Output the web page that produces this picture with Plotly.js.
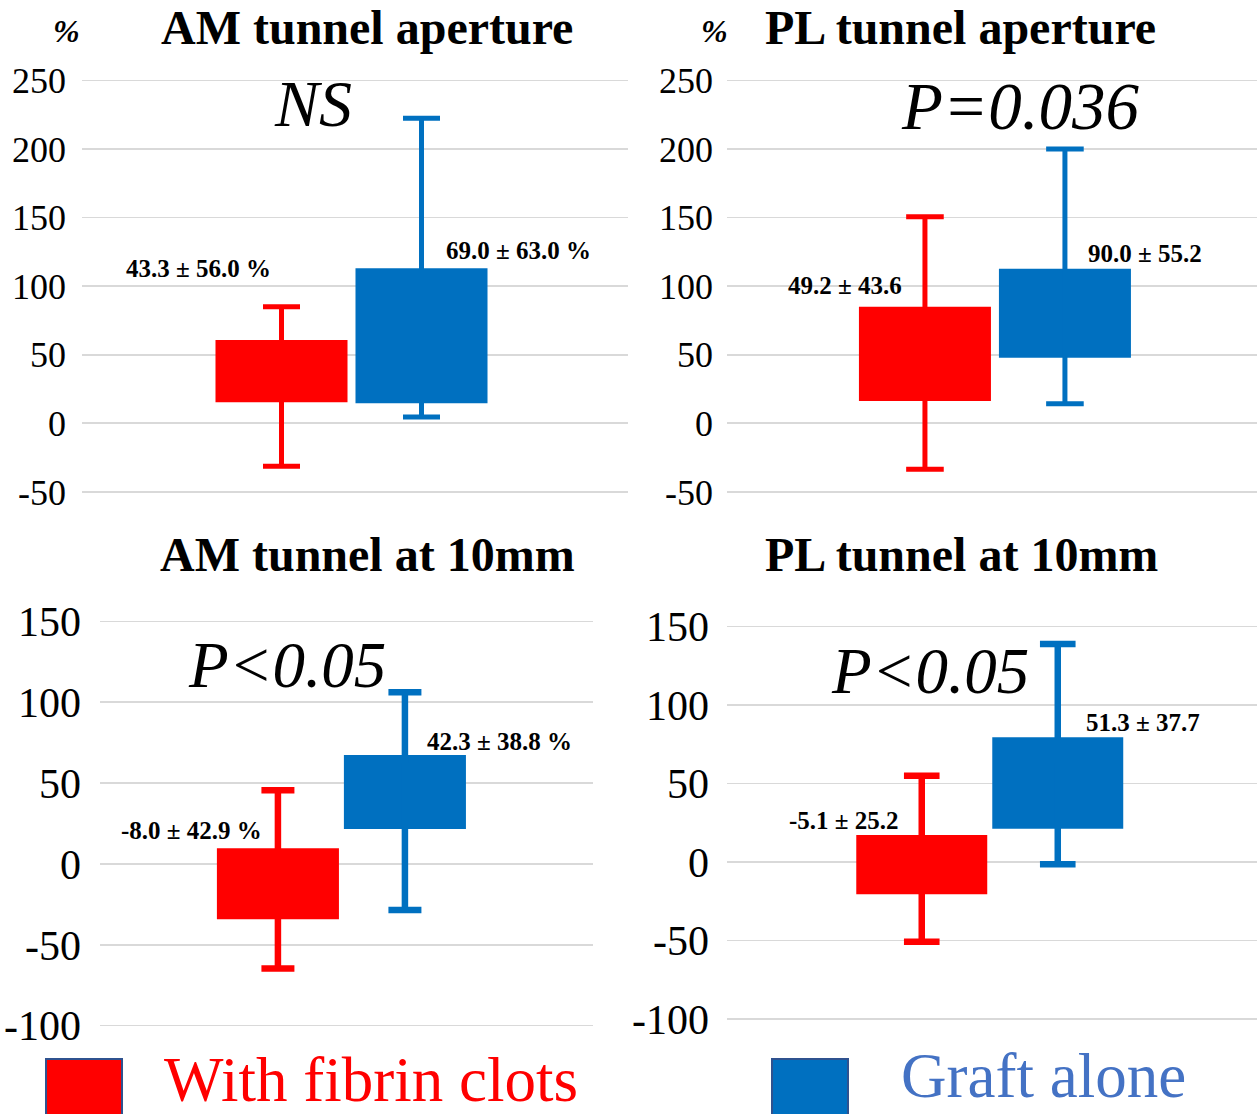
<!DOCTYPE html>
<html><head><meta charset="utf-8">
<script src="https://cdn.plot.ly/plotly-3.0.1.min.js"></script>
<style>html,body{margin:0;padding:0;background:#fff;}#chart{width:1257px;height:1114px;}</style>
</head><body><div id="chart"></div>
<script>
// ---------- DATA ----------
const groups = ['With fibrin clots', 'Graft alone'];
const panelTitles = ['AM tunnel aperture', 'PL tunnel aperture', 'AM tunnel at 10mm', 'PL tunnel at 10mm'];
const pValueLabels = ['NS', 'P=0.036', 'P<0.05', 'P<0.05'];
const unitLabel = '%';

const topTickVals = [-50, 0, 50, 100, 150, 200, 250];
const topTickText = ['-50', '0', '50', '100', '150', '200', '250'];
const bottomTickVals = [-100, -50, 0, 50, 100, 150];
const bottomTickText = ['-100', '-50', '0', '50', '100', '150'];

// AM tunnel aperture
const amApMean = [43.3, 69.0];
const amApSD   = [56.0, 63.0];
const amApQ1   = [15.3, 14.6];
const amApQ3   = [60.7, 113.0];
const amApMin  = [-31.3, 4.6];
const amApMax  = [85.0, 222.3];
// PL tunnel aperture
const plApMean = [49.2, 90.0];
const plApSD   = [43.6, 55.2];
const plApQ1   = [16.3, 47.8];
const plApQ3   = [85.0, 112.7];
const plApMin  = [-33.5, 14.3];
const plApMax  = [150.6, 200.0];
// AM tunnel at 10mm
const am10Mean = [-8.0, 42.3];
const am10SD   = [42.9, 38.8];
const am10Q1   = [-34.2, 21.6];
const am10Q3   = [9.7, 67.4];
const am10Min  = [-64.7, -28.4];
const am10Max  = [45.6, 106.2];
// PL tunnel at 10mm
const pl10Mean = [-5.1, 51.3];
const pl10SD   = [25.2, 37.7];
const pl10Q1   = [-20.6, 21.2];
const pl10Q3   = [17.2, 79.5];
const pl10Min  = [-50.8, -1.5];
const pl10Max  = [55.0, 138.9];
const labelSuffix = [' %', '', ' %', ''];

// ---------- STYLE / LAYOUT ----------
const colors = ['#FF0000', '#0070C0'];
const FONT = 'Liberation Serif, Times New Roman, serif';
const W = 1257, H = 1114;
const px = x => x / W;
const py = y => 1 - y / H;

const data4 = [
  {mean: amApMean, sd: amApSD, q1: amApQ1, q3: amApQ3, lo: amApMin, hi: amApMax, tv: topTickVals, tt: topTickText},
  {mean: plApMean, sd: plApSD, q1: plApQ1, q3: plApQ3, lo: plApMin, hi: plApMax, tv: topTickVals, tt: topTickText},
  {mean: am10Mean, sd: am10SD, q1: am10Q1, q3: am10Q3, lo: am10Min, hi: am10Max, tv: bottomTickVals, tt: bottomTickText},
  {mean: pl10Mean, sd: pl10SD, q1: pl10Q1, q3: pl10Q3, lo: pl10Min, hi: pl10Max, tv: bottomTickVals, tt: bottomTickText}
];

const geom = [
  {x0: 82, x1: 628, zero: 423.3, k: 1.372, xr: [-1.425, 2.475], yr: [-60, 260], barW: 0.943, cap: 18.5, thick: 5,
   title: [367, 27.5], p: [313, 104, 66], pct: [66, 31], lab: [[198, 268.5], [518, 251]], tick: 36, standoff: 15},
  {x0: 727, x1: 1257, zero: 423.3, k: 1.372, xr: [-1.414, 2.372], yr: [-60, 260], barW: 0.943, cap: 18.8, thick: 5,
   title: [960, 27.5], p: [1020, 106, 67], pct: [714, 31], lab: [[844.5, 285], [1144.5, 253]], tick: 36, standoff: 13},
  {x0: 100, x1: 593, zero: 864, k: 1.617, xr: [-1.401, 2.481], yr: [-110, 160], barW: 0.961, cap: 16.5, thick: 6.5,
   title: [367, 554.5], p: [287, 665, 65], pct: null, lab: [[191.5, 830], [499, 741]], tick: 42, standoff: 18},
  {x0: 727, x1: 1257, zero: 862, k: 1.569, xr: [-1.432, 2.465], yr: [-110, 160], barW: 0.963, cap: 17.8, thick: 6.5,
   title: [961, 554.5], p: [930, 671, 65], pct: null, lab: [[844, 820.5], [1142.5, 722.5]], tick: 42, standoff: 17}
];

const traces = [];
const layout = {
  width: W, height: H, margin: {l: 0, r: 0, t: 0, b: 0},
  paper_bgcolor: '#fff', plot_bgcolor: 'rgba(0,0,0,0)',
  showlegend: false, barmode: 'overlay',
  font: {family: FONT, color: '#000'},
  annotations: [], shapes: []
};

geom.forEach((g, i) => {
  const n = i + 1;
  const xa = 'x' + (n === 1 ? '' : n), ya = 'y' + (n === 1 ? '' : n);
  const xk = 'xaxis' + (n === 1 ? '' : n), yk = 'yaxis' + (n === 1 ? '' : n);
  const d = data4[i];
  const topPx = g.zero - g.yr[1] * g.k, botPx = g.zero - g.yr[0] * g.k;
  layout[xk] = {domain: [px(g.x0), px(g.x1)], range: g.xr, anchor: ya, visible: false, fixedrange: true};
  layout[yk] = {domain: [py(botPx), py(topPx)], range: g.yr, anchor: xa,
    tickmode: 'array', tickvals: d.tv, ticktext: d.tt,
    showgrid: true, gridcolor: '#D9D9D9', gridwidth: 1.6, zeroline: false, showline: false,
    ticks: '', ticklabelstandoff: g.standoff,
    tickfont: {family: FONT, size: g.tick, color: '#000'}};
  groups.forEach((grp, j) => {
    traces.push({type: 'bar', x: [j], base: [d.q1[j]], y: [d.q3[j] - d.q1[j]], width: g.barW,
      xaxis: xa, yaxis: ya, name: grp, marker: {color: colors[j], line: {width: 0}}, hoverinfo: 'skip'});
  });
  groups.forEach((grp, j) => {
    traces.push({type: 'scatter', mode: 'markers', x: [j], y: [d.q3[j]], xaxis: xa, yaxis: ya,
      marker: {size: 1, opacity: 0}, hoverinfo: 'skip', name: grp,
      error_y: {type: 'data', symmetric: false, array: [d.hi[j] - d.q3[j]], arrayminus: [d.q3[j] - d.lo[j]],
        color: colors[j], thickness: g.thick, width: g.cap}});
  });
  layout.annotations.push({xref: 'paper', yref: 'paper', x: px(g.title[0]), y: py(g.title[1]),
    xanchor: 'center', yanchor: 'middle', showarrow: false, text: '<b>' + panelTitles[i] + '</b>',
    font: {size: 48, color: '#000'}});
  layout.annotations.push({xref: 'paper', yref: 'paper', x: px(g.p[0]), y: py(g.p[1]),
    xanchor: 'center', yanchor: 'middle', showarrow: false,
    text: '<i>' + pValueLabels[i].replace('<', '&lt;') + '</i>', font: {size: g.p[2], color: '#000'}});
  if (g.pct) layout.annotations.push({xref: 'paper', yref: 'paper', x: px(g.pct[0]), y: py(g.pct[1]),
    xanchor: 'center', yanchor: 'middle', showarrow: false, text: '<b><i>' + unitLabel + '</i></b>',
    font: {size: 32, color: '#000'}});
  groups.forEach((grp, j) => {
    layout.annotations.push({xref: 'paper', yref: 'paper', x: px(g.lab[j][0]), y: py(g.lab[j][1]),
      xanchor: 'center', yanchor: 'middle', showarrow: false,
      text: '<b>' + d.mean[j].toFixed(1) + ' ± ' + d.sd[j].toFixed(1) + labelSuffix[i] + '</b>',
      font: {size: 25, color: '#000'}});
  });
});

// legend (manual)
const legendBoxes = [[46, 122], [772, 848]];
const legendText = [[371.5, 1080, '#FF0000'], [1043.5, 1076, '#4472C4']];
groups.forEach((grp, j) => {
  layout.shapes.push({type: 'rect', xref: 'paper', yref: 'paper',
    x0: px(legendBoxes[j][0]), x1: px(legendBoxes[j][1]), y0: py(1125), y1: py(1059),
    fillcolor: colors[j], line: {color: '#2F528F', width: 2}});
  layout.annotations.push({xref: 'paper', yref: 'paper', x: px(legendText[j][0]), y: py(legendText[j][1]),
    xanchor: 'center', yanchor: 'middle', showarrow: false, text: grp,
    font: {size: 63, color: legendText[j][2]}});
});

Plotly.newPlot('chart', traces, layout, {displayModeBar: false, staticPlot: true});
</script>
</body></html>
